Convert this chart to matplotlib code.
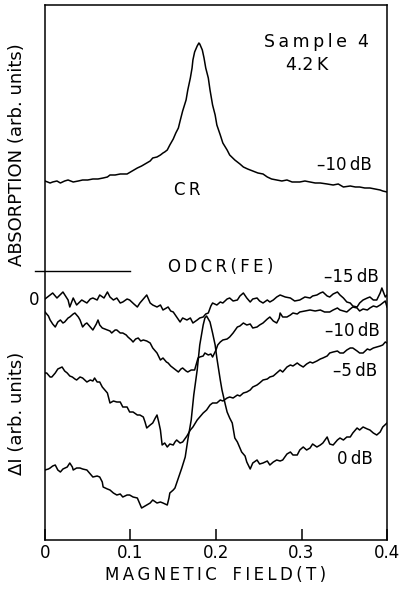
#!/usr/bin/env python3

import matplotlib
matplotlib.use("Agg")
import matplotlib.pyplot as plt

plt.rcParams["font.family"] = ["DejaVu Sans"]

# Cyclotron resonance absorption at -10 dB (arb. units, relative to its own baseline)
cr_field = [0.000, 0.006, 0.009, 0.014, 0.018, 0.023, 0.027, 0.033, 0.039, 0.044,
            0.050, 0.056, 0.062, 0.068, 0.073, 0.076, 0.082, 0.088, 0.092, 0.096,
            0.102, 0.108, 0.113, 0.119, 0.123, 0.126, 0.131, 0.135, 0.138, 0.140,
            0.143, 0.146, 0.150, 0.153, 0.156, 0.158, 0.161, 0.165, 0.167, 0.170,
            0.172, 0.173, 0.175, 0.178, 0.180, 0.181, 0.184, 0.186, 0.188, 0.191,
            0.193, 0.196, 0.199, 0.201, 0.205, 0.208, 0.213, 0.216, 0.222, 0.228,
            0.232, 0.237, 0.243, 0.249, 0.255, 0.260, 0.265, 0.271, 0.277, 0.283,
            0.289, 0.295, 0.298, 0.304, 0.310, 0.316, 0.322, 0.330, 0.337, 0.343,
            0.349, 0.357, 0.363, 0.368, 0.374, 0.380, 0.386, 0.392, 0.395, 0.400]
cr_absorption = [0.1, -0.1, 0.0, 0.1, -0.1, 0.1, 0.2, 0.0, 0.1, 0.2,
                 0.2, 0.3, 0.3, 0.4, 0.5, 0.7, 0.7, 0.8, 0.8, 0.8,
                 1.1, 1.4, 1.6, 1.9, 2.1, 2.4, 2.5, 2.7, 2.9, 3.0,
                 3.2, 3.7, 4.3, 4.9, 5.4, 6.1, 7.1, 8.2, 9.2, 10.4,
                 11.4, 12.2, 13.0, 13.6, 13.9, 13.8, 13.2, 12.4, 11.4, 10.4,
                 9.2, 7.7, 6.7, 5.7, 4.7, 3.9, 3.2, 2.7, 2.2, 1.8,
                 1.5, 1.3, 1.1, 0.9, 0.8, 0.5, 0.3, 0.2, 0.1, 0.2,
                 0.0, 0.0, 0.0, 0.1, 0.0, -0.1, -0.1, -0.2, -0.3, -0.2,
                 -0.5, -0.4, -0.5, -0.5, -0.6, -0.6, -0.7, -0.8, -0.9, -1.0]
cr_offset = 11.6

# ODCR (free exciton) signals, Delta I in arb. units
odcr_m15_field = [0.000, 0.009, 0.014, 0.021, 0.027, 0.029, 0.033, 0.037, 0.043, 0.049,
                  0.053, 0.056, 0.061, 0.064, 0.069, 0.073, 0.076, 0.080, 0.084, 0.088,
                  0.091, 0.096, 0.099, 0.104, 0.108, 0.111, 0.116, 0.119, 0.123, 0.126,
                  0.131, 0.135, 0.138, 0.142, 0.144, 0.147, 0.150, 0.154, 0.158, 0.161,
                  0.166, 0.170, 0.173, 0.178, 0.181, 0.185, 0.188, 0.191, 0.194, 0.196,
                  0.201, 0.205, 0.208, 0.213, 0.216, 0.220, 0.225, 0.228, 0.232, 0.236,
                  0.240, 0.243, 0.248, 0.251, 0.255, 0.260, 0.263, 0.267, 0.271, 0.275,
                  0.281, 0.287, 0.292, 0.298, 0.304, 0.310, 0.313, 0.318, 0.322, 0.325,
                  0.330, 0.333, 0.337, 0.342, 0.345, 0.349, 0.353, 0.357, 0.360, 0.365,
                  0.368, 0.372, 0.377, 0.380, 0.384, 0.388, 0.392, 0.394, 0.398, 0.400]
odcr_m15 = [-0.1, 0.5, 0.0, 0.6, -0.2, -0.9, 0.0, -0.7, -0.2, -0.5,
            -0.1, 0.0, -0.2, 0.3, 0.0, 0.6, 0.1, -0.2, 0.0, -0.5,
            -0.4, -0.1, -0.2, -0.6, -0.9, -0.5, 0.0, 0.3, -0.5, -0.7,
            -0.9, -0.7, -1.2, -1.0, -0.9, -1.3, -1.4, -1.9, -2.4, -2.0,
            -2.2, -2.0, -2.5, -2.2, -2.0, -1.9, -1.6, -1.5, -0.8, -0.5,
            -0.7, -0.4, -0.5, -0.1, 0.0, -0.3, -0.2, 0.2, 0.5, 0.0,
            -0.4, -0.1, 0.0, -0.3, -0.5, -0.2, -0.4, -0.2, 0.1, 0.3,
            0.1, 0.0, -0.3, -0.2, 0.1, 0.0, 0.2, 0.3, 0.5, 0.6,
            0.2, 0.1, 0.4, 0.6, 0.3, 0.0, -0.4, -0.5, -0.8, -0.9,
            -0.5, -0.2, 0.0, 0.1, -0.2, -0.2, 0.5, 1.0, 0.1, 0.3]

odcr_m10_field = [0.000, 0.004, 0.006, 0.009, 0.012, 0.015, 0.018, 0.021, 0.023, 0.027,
                  0.029, 0.033, 0.035, 0.039, 0.041, 0.044, 0.047, 0.049, 0.053, 0.056,
                  0.060, 0.062, 0.064, 0.067, 0.070, 0.073, 0.076, 0.078, 0.082, 0.084,
                  0.088, 0.091, 0.095, 0.097, 0.101, 0.103, 0.106, 0.109, 0.112, 0.115,
                  0.119, 0.123, 0.126, 0.131, 0.135, 0.138, 0.142, 0.144, 0.147, 0.150,
                  0.153, 0.156, 0.159, 0.161, 0.165, 0.167, 0.171, 0.175, 0.179, 0.181,
                  0.185, 0.187, 0.191, 0.194, 0.196, 0.200, 0.202, 0.205, 0.208, 0.213,
                  0.216, 0.220, 0.225, 0.228, 0.232, 0.236, 0.240, 0.243, 0.248, 0.251,
                  0.255, 0.260, 0.263, 0.267, 0.271, 0.274, 0.275, 0.278, 0.283, 0.287,
                  0.290, 0.295, 0.298, 0.304, 0.310, 0.316, 0.322, 0.327, 0.333, 0.337,
                  0.342, 0.345, 0.349, 0.353, 0.357, 0.360, 0.365, 0.368, 0.372, 0.377,
                  0.380, 0.384, 0.388, 0.392, 0.395, 0.398, 0.400]
odcr_m10 = [-1.4, -1.8, -2.2, -2.6, -2.9, -2.4, -2.2, -2.5, -2.4, -2.0,
            -1.9, -1.6, -1.5, -1.9, -2.2, -2.9, -2.6, -2.5, -2.9, -3.2,
            -2.6, -2.2, -2.7, -3.0, -3.1, -3.2, -3.3, -3.5, -3.2, -3.2,
            -3.5, -3.5, -3.7, -3.9, -4.2, -4.4, -4.1, -4.0, -4.3, -4.2,
            -4.3, -4.5, -5.0, -5.5, -6.2, -6.0, -6.4, -6.5, -6.8, -7.0,
            -7.2, -7.4, -7.1, -7.0, -7.3, -7.4, -7.2, -7.2, -6.0, -5.9,
            -5.8, -5.5, -5.7, -5.6, -5.9, -5.2, -4.7, -4.4, -4.2, -4.1,
            -3.9, -3.5, -2.9, -2.8, -2.5, -2.7, -2.6, -3.0, -2.9, -2.7,
            -2.5, -2.1, -1.9, -2.3, -2.5, -2.0, -1.5, -1.9, -1.9, -1.7,
            -1.5, -1.6, -1.4, -1.3, -1.2, -1.3, -1.2, -1.4, -1.4, -1.2,
            -1.0, -1.2, -1.3, -1.4, -1.1, -0.9, -1.0, -1.3, -1.1, -1.2,
            -1.0, -0.8, -0.9, -0.7, -0.5, -0.3, -0.9]

odcr_m5_field = [0.000, 0.002, 0.006, 0.008, 0.012, 0.015, 0.020, 0.023, 0.026, 0.029,
                 0.032, 0.035, 0.037, 0.041, 0.044, 0.049, 0.053, 0.056, 0.058, 0.061,
                 0.064, 0.067, 0.070, 0.073, 0.076, 0.080, 0.084, 0.088, 0.091, 0.096,
                 0.099, 0.103, 0.108, 0.111, 0.115, 0.117, 0.119, 0.123, 0.126, 0.129,
                 0.131, 0.133, 0.135, 0.137, 0.140, 0.143, 0.146, 0.150, 0.152, 0.154,
                 0.158, 0.161, 0.166, 0.170, 0.173, 0.178, 0.181, 0.185, 0.189, 0.193,
                 0.196, 0.201, 0.205, 0.208, 0.213, 0.216, 0.220, 0.225, 0.228, 0.232,
                 0.236, 0.240, 0.243, 0.248, 0.251, 0.255, 0.260, 0.263, 0.267, 0.271,
                 0.275, 0.278, 0.283, 0.287, 0.290, 0.295, 0.298, 0.302, 0.306, 0.310,
                 0.313, 0.318, 0.322, 0.325, 0.330, 0.333, 0.337, 0.342, 0.345, 0.349,
                 0.353, 0.357, 0.360, 0.365, 0.368, 0.372, 0.377, 0.380, 0.384, 0.388,
                 0.392, 0.395, 0.398, 0.400]
odcr_m5 = [-7.5, -7.5, -7.9, -7.9, -7.5, -7.1, -6.9, -7.3, -7.5, -7.8,
           -7.9, -8.1, -8.2, -7.9, -8.0, -8.4, -8.2, -8.3, -8.0, -8.4,
           -8.4, -8.9, -9.2, -9.5, -10.5, -10.3, -10.4, -10.4, -10.9, -10.9,
           -11.4, -11.4, -11.7, -11.7, -11.9, -12.4, -13.0, -12.7, -12.5, -12.0,
           -11.7, -12.4, -13.2, -14.7, -14.5, -14.9, -14.6, -14.7, -14.4, -14.2,
           -14.5, -14.4, -13.8, -13.2, -12.9, -12.2, -11.9, -11.5, -11.2, -10.7,
           -10.5, -10.5, -10.2, -10.3, -10.0, -9.9, -10.0, -9.7, -9.8, -9.5,
           -9.4, -9.2, -8.9, -8.7, -8.5, -8.2, -8.1, -7.9, -7.8, -7.5,
           -7.2, -7.4, -6.9, -6.7, -6.8, -6.5, -6.7, -6.9, -6.6, -6.4,
           -6.5, -6.3, -6.1, -6.0, -5.8, -5.5, -5.4, -5.3, -5.5, -5.5,
           -5.2, -5.0, -5.0, -5.3, -5.5, -5.5, -5.1, -5.2, -5.0, -4.9,
           -4.8, -4.7, -4.4, -4.5]

odcr_0_field = [0.000, 0.004, 0.006, 0.009, 0.012, 0.015, 0.018, 0.021, 0.026, 0.029,
                0.032, 0.033, 0.037, 0.041, 0.044, 0.049, 0.053, 0.056, 0.061, 0.064,
                0.067, 0.068, 0.073, 0.076, 0.080, 0.084, 0.088, 0.091, 0.096, 0.099,
                0.103, 0.108, 0.111, 0.113, 0.117, 0.119, 0.123, 0.126, 0.131, 0.135,
                0.138, 0.143, 0.145, 0.146, 0.150, 0.152, 0.154, 0.158, 0.160, 0.164,
                0.167, 0.171, 0.174, 0.178, 0.181, 0.185, 0.187, 0.189, 0.193, 0.196,
                0.199, 0.201, 0.205, 0.207, 0.211, 0.213, 0.216, 0.219, 0.222, 0.225,
                0.228, 0.230, 0.234, 0.236, 0.240, 0.243, 0.248, 0.251, 0.255, 0.260,
                0.263, 0.267, 0.271, 0.275, 0.278, 0.283, 0.287, 0.290, 0.295, 0.298,
                0.302, 0.306, 0.310, 0.313, 0.318, 0.322, 0.325, 0.330, 0.333, 0.337,
                0.342, 0.345, 0.349, 0.353, 0.357, 0.360, 0.365, 0.368, 0.372, 0.377,
                0.380, 0.384, 0.388, 0.392, 0.395, 0.400]
odcr_0 = [-17.2, -17.1, -17.0, -16.8, -16.7, -17.2, -17.4, -17.1, -16.9, -16.5,
          -16.9, -17.2, -17.0, -17.0, -17.1, -17.2, -17.6, -17.9, -17.8, -17.9,
          -18.4, -18.9, -19.1, -19.2, -19.5, -19.7, -19.6, -19.9, -19.7, -19.7,
          -19.9, -20.0, -20.6, -21.0, -20.8, -20.7, -20.5, -20.2, -20.5, -20.4,
          -20.5, -20.7, -20.0, -19.5, -19.2, -19.0, -18.5, -17.5, -17.0, -15.9,
          -14.2, -12.2, -9.7, -7.2, -4.7, -2.7, -2.0, -1.8, -2.4, -3.5,
          -4.7, -6.0, -8.2, -9.2, -10.7, -11.4, -12.0, -12.5, -14.0, -14.4,
          -15.0, -15.4, -15.8, -16.4, -17.1, -16.5, -16.2, -16.6, -16.5, -16.3,
          -16.7, -16.4, -16.2, -16.3, -16.2, -15.6, -15.4, -15.7, -15.7, -15.2,
          -14.9, -15.2, -15.0, -14.6, -14.9, -14.7, -14.5, -13.9, -14.6, -14.7,
          -14.2, -14.0, -14.2, -13.9, -13.9, -13.5, -13.0, -13.2, -12.9, -13.1,
          -13.2, -13.5, -13.7, -13.4, -12.9, -12.5]

field_ticks = [0, 0.1, 0.2, 0.3, 0.4]
field_labels = ["0", "0.1", "0.2", "0.3", "0.4"]


def spaced(s):
    # widen the letter spacing with thin spaces between characters
    return "\u2009".join(s)


def main():
    fig = plt.figure(figsize=(4.01, 5.94), dpi=100)
    ax = fig.add_axes([0.1122, 0.0909, 0.8529, 0.9007])

    lw = 1.1
    ax.plot(cr_field, [a + cr_offset for a in cr_absorption], color="black", lw=lw)
    ax.plot(odcr_m15_field, odcr_m15, color="black", lw=lw)
    ax.plot(odcr_m10_field, odcr_m10, color="black", lw=lw)
    ax.plot(odcr_m5_field, odcr_m5, color="black", lw=lw)
    ax.plot(odcr_0_field, odcr_0, color="black", lw=lw)

    ax.set_xlim(0, 0.4)
    ax.set_ylim(-24.2, 29.3)

    # divider between the absorption and the ODCR part, sticking out on the left
    ax.axhline(2.7, xmin=-0.03, xmax=0.25, color="black", lw=1.0, clip_on=False)

    for sp in ax.spines.values():
        sp.set_linewidth(1.1)

    ax.set_xticks(field_ticks)
    ax.set_xticklabels(field_labels)
    ax.tick_params(axis="x", direction="in", length=8, width=1.1, pad=3,
                   labelsize=12, top=False)
    ax.set_yticks([0])
    ax.set_yticklabels(["0"])
    ax.tick_params(axis="y", length=0, pad=4, labelsize=12)

    ax.set_xlabel(spaced("MAGNETIC") + "   " + spaced("FIELD(T)"),
                  fontsize=12, labelpad=3)

    fig.text(17 / 401, (594 - 155) / 594, "ABSORPTION (arb. units)", rotation=90,
             ha="center", va="center", fontsize=13)
    fig.text(17 / 401, (594 - 413) / 594, "ΔI (arb. units)", rotation=90,
             ha="center", va="center", fontsize=13)

    # sample and trace annotations
    fs = 12
    ax.text(0.318, 25.6, spaced("Sample") + "  4", ha="center", va="center", fontsize=12.5)
    ax.text(0.307, 23.3, "4.2\u2009K", ha="center", va="center", fontsize=12.5)
    ax.text(0.350, 13.3, "–10\u2009dB", ha="center", va="center", fontsize=fs)
    ax.text(0.166, 10.8, spaced("CR"), ha="center", va="center", fontsize=fs)
    ax.text(0.206, 3.1, spaced("ODCR(FE)"), ha="center", va="center", fontsize=fs)
    ax.text(0.358, 2.1, "–15\u2009dB", ha="center", va="center", fontsize=fs)
    ax.text(0.360, -3.3, "–10\u2009dB", ha="center", va="center", fontsize=fs)
    ax.text(0.363, -7.3, "–5\u2009dB", ha="center", va="center", fontsize=fs)
    ax.text(0.363, -16.1, "0\u2009dB", ha="center", va="center", fontsize=fs)

    fig.savefig("out.png", dpi=100)


if __name__ == "__main__":
    main()
